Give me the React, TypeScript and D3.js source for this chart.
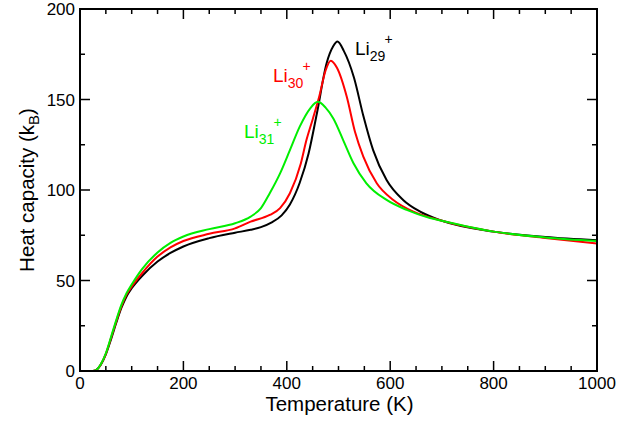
import React from 'react';
import * as d3 from 'd3';

// temperatures (K) and heat capacities (kB)
const li29T = [25, 30, 40, 50, 60, 70, 80, 90, 100, 120, 150, 175, 200, 250, 300, 330, 350, 370, 390, 406, 425, 442, 458, 477, 490, 498, 510, 530, 548, 567, 593, 625, 658, 700, 800, 900, 1000];
const li29C = [0, 0.3, 3.4, 9.2, 17.5, 26.5, 34.8, 41.2, 45.7, 52.5, 60.5, 65.2, 68.8, 73.4, 76.4, 78, 79.5, 82, 86, 92, 104, 120, 142, 170, 179.5, 182, 177, 162, 141, 122, 105.5, 94.5, 88, 83, 77, 74, 72.2];

const li30T = [25, 30, 40, 50, 60, 70, 80, 90, 100, 120, 150, 175, 200, 250, 300, 330, 367, 387, 406, 427, 438, 450, 463, 475, 485, 497, 516, 532, 548, 574, 606, 645, 700, 800, 900, 1000];
const li30C = [0, 0.3, 3.5, 9.5, 18.2, 27.3, 35.7, 42.2, 46.6, 54, 63.2, 68.3, 71.8, 75.8, 78.8, 82.5, 86.2, 90, 98.2, 114.5, 127.6, 139, 152, 166, 171.4, 167.5, 151.5, 132, 118.4, 103.7, 94.5, 88, 83, 77, 73.5, 70.5];

const li31T = [25, 30, 40, 50, 60, 70, 80, 90, 100, 120, 150, 175, 200, 250, 300, 330, 350, 367, 387, 406, 425, 445, 460, 475, 490, 509, 529, 554, 593, 632, 677, 700, 800, 900, 1000];
const li31C = [0, 0.3, 3.6, 9.8, 18.8, 28, 36.5, 43, 47.8, 56.3, 65.5, 70.8, 74.3, 78.4, 81.6, 85.3, 90, 98.2, 109.2, 122, 135, 145, 148.7, 145.5, 139.5, 127.6, 114.8, 103.7, 94.5, 89, 84.5, 83, 77, 73.8, 71.8];

const xTicks = [0, 200, 400, 600, 800, 1000];
const yTicks = [0, 50, 100, 150, 200];

const W = 639;
const H = 421;
const left = 80;
const right = 597;
const top = 9;
const bottom = 371;
const font = "'Liberation Sans', Arial, Helvetica, sans-serif";
const green = '#00ee00';

const x = d3.scaleLinear().domain([0, 1000]).range([left, right]);
const y = d3.scaleLinear().domain([0, 200]).range([bottom, top]);

const line = d3
  .line<[number, number]>()
  .x((d) => x(d[0]))
  .y((d) => y(d[1]))
  .curve(d3.curveMonotoneX);

const series = [
  { t: li29T, c: li29C, color: '#000000' },
  { t: li30T, c: li30C, color: '#ff0000' },
  { t: li31T, c: li31C, color: green },
];

const App = () => {
  const xMinor = d3.range(0, 1001, 50);
  const yMinor = d3.range(0, 201, 25);

  return (
    <svg width={W} height={H} style={{ position: 'absolute', left: 0, top: 0, background: '#fff' }} fontFamily={font}>
      <defs>
        <clipPath id="plot">
          <rect x={left} y={top} width={right - left} height={bottom - top} />
        </clipPath>
      </defs>

      {/* curves */}
      <g clipPath="url(#plot)">
        {series.map((s, i) => (
          <path
            key={i}
            d={line(s.t.map((t, j) => [t, s.c[j]] as [number, number])) || ''}
            fill="none"
            stroke={s.color}
            strokeWidth={2}
          />
        ))}
      </g>

      {/* ticks, inward on all four sides */}
      <g stroke="#000" strokeWidth={1.5}>
        {xMinor.map((v) => {
          const len = v % 200 === 0 ? 10 : 5;
          return (
            <g key={'x' + v}>
              <line x1={x(v)} x2={x(v)} y1={bottom} y2={bottom - len} />
              <line x1={x(v)} x2={x(v)} y1={top} y2={top + len} />
            </g>
          );
        })}
        {yMinor.map((v) => {
          const len = v % 50 === 0 ? 10 : 5;
          return (
            <g key={'y' + v}>
              <line x1={left} x2={left + len} y1={y(v)} y2={y(v)} />
              <line x1={right} x2={right - len} y1={y(v)} y2={y(v)} />
            </g>
          );
        })}
      </g>
      <rect x={left} y={top} width={right - left} height={bottom - top} fill="none" stroke="#000" strokeWidth={2} />

      {/* tick labels */}
      <g fontSize={17} fill="#000">
        {xTicks.map((v) => (
          <text key={'xl' + v} x={x(v)} y={bottom + 18} textAnchor="middle">
            {v}
          </text>
        ))}
        {yTicks.map((v) => (
          <text key={'yl' + v} x={left - 5} y={y(v) + 6} textAnchor="end">
            {v}
          </text>
        ))}
      </g>

      {/* axis titles */}
      <text x={(left + right) / 2 + 1} y={411} textAnchor="middle" fontSize={20.5}>
        Temperature (K)
      </text>
      <text transform={`translate(34, ${(top + bottom) / 2}) rotate(-90)`} textAnchor="middle" fontSize={20.5}>
        Heat capacity (k<tspan fontSize={15} dy={5}>B</tspan>
        <tspan dy={-5}>)</tspan>
      </text>

      {/* series labels */}
      <g fontSize={19}>
        <text x={355} y={55} fill="#000">
          Li<tspan fontSize={14} dy={6}>29</tspan>
          <tspan fontSize={14} dx={-1} dy={-17}>+</tspan>
        </text>
        <text x={273} y={82} fill="#ff0000">
          Li<tspan fontSize={14} dy={6}>30</tspan>
          <tspan fontSize={14} dx={-1} dy={-17}>+</tspan>
        </text>
        <text x={244} y={138} fill={green}>
          Li<tspan fontSize={14} dy={6}>31</tspan>
          <tspan fontSize={14} dx={-1} dy={-17}>+</tspan>
        </text>
      </g>
    </svg>
  );
};

export default App;
